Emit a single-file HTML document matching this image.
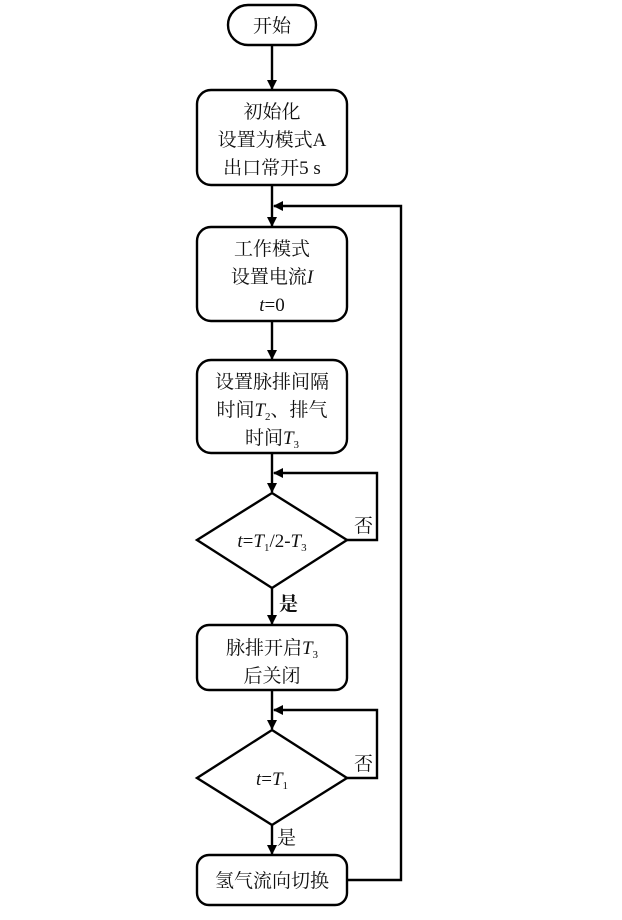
<!DOCTYPE html>
<html><head><meta charset="utf-8"><style>
html,body{margin:0;padding:0;background:#fff}
svg text{font-family:"Liberation Serif","Noto Serif CJK SC","Noto Sans CJK SC",serif;font-size:19px;fill:#111}
.i{font-style:italic}
</style></head><body>
<svg width="622" height="915" viewBox="0 0 622 915" xmlns="http://www.w3.org/2000/svg">
<defs><marker id="a" markerWidth="10" markerHeight="10" refX="9" refY="5" orient="auto" markerUnits="userSpaceOnUse"><path d="M0,0 L10,5 L0,10 z" fill="#000"/></marker></defs>
<g fill="none" stroke="#000" stroke-width="2.4">
<rect x="228" y="5" width="88" height="40" rx="20"/>
<rect x="197" y="90" width="150" height="95" rx="14"/>
<rect x="197" y="227" width="150" height="94" rx="14"/>
<rect x="197" y="360" width="150" height="93" rx="14"/>
<polygon points="272,493 347,540 272,588 197,540"/>
<rect x="197" y="625" width="150" height="65" rx="12"/>
<polygon points="272,730 347,778 272,825 197,778"/>
<rect x="197" y="855" width="150" height="50" rx="12"/>
<line x1="272" y1="45" x2="272" y2="89" marker-end="url(#a)"/>
<line x1="272" y1="185" x2="272" y2="226" marker-end="url(#a)"/>
<line x1="272" y1="321" x2="272" y2="359" marker-end="url(#a)"/>
<line x1="272" y1="453" x2="272" y2="492" marker-end="url(#a)"/>
<line x1="272" y1="588" x2="272" y2="624" marker-end="url(#a)"/>
<line x1="272" y1="690" x2="272" y2="729" marker-end="url(#a)"/>
<line x1="272" y1="825" x2="272" y2="854" marker-end="url(#a)"/>
<polyline points="347,540 377,540 377,473 274,473" marker-end="url(#a)"/>
<polyline points="347,778 377,778 377,710 274,710" marker-end="url(#a)"/>
<polyline points="347,880 401,880 401,206 274,206" marker-end="url(#a)"/>
</g>
<g text-anchor="middle">
<text x="272" y="32">开始</text>
<text x="272" y="118">初始化</text>
<text x="272" y="146">设置为模式A</text>
<text x="272" y="174">出口常开5 s</text>
<text x="272" y="255">工作模式</text>
<text x="272" y="283">设置电流<tspan class="i">I</tspan></text>
<text x="272" y="311"><tspan class="i">t</tspan>=0</text>
<text x="272" y="388">设置脉排间隔</text>
<text x="272" y="416">时间<tspan class="i">T</tspan><tspan font-size="11" dy="4">2</tspan><tspan dy="-4">、排气</tspan></text>
<text x="272" y="444">时间<tspan class="i">T</tspan><tspan font-size="11" dy="4">3</tspan></text>
<text x="272" y="547"><tspan class="i">t</tspan>=<tspan class="i">T</tspan><tspan font-size="11" dy="4">1</tspan><tspan dy="-4">/2-</tspan><tspan class="i">T</tspan><tspan font-size="11" dy="4">3</tspan></text>
<text x="272" y="654">脉排开启<tspan class="i">T</tspan><tspan font-size="11" dy="4">3</tspan></text>
<text x="272" y="682">后关闭</text>
<text x="272" y="785"><tspan class="i">t</tspan>=<tspan class="i">T</tspan><tspan font-size="11" dy="4">1</tspan></text>
<text x="272" y="887">氢气流向切换</text>
</g>
<text x="354" y="532">否</text>
<text x="354" y="770">否</text>
<text x="279" y="610" font-weight="bold">是</text>
<text x="277" y="844">是</text>
</svg>
</body></html>
